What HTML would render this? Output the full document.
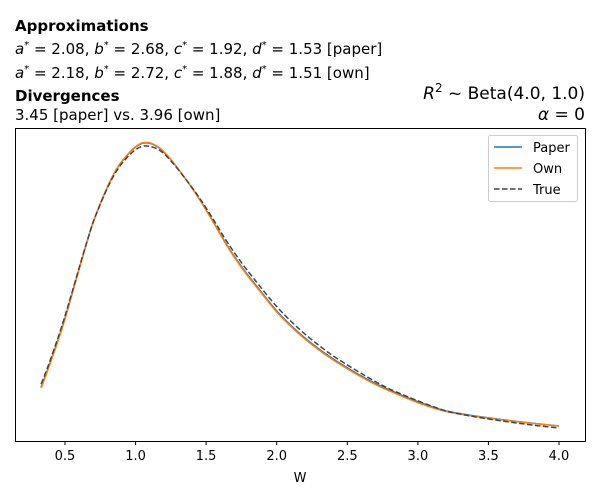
<!DOCTYPE html>
<html><head><meta charset="utf-8"><style>
body{margin:0;background:#fff;width:600px;height:500px;overflow:hidden;font-family:"DejaVu Sans","Liberation Sans",sans-serif;}
</style></head><body>
<svg width="600" height="500" xmlns="http://www.w3.org/2000/svg" font-family="DejaVu Sans, Liberation Sans, sans-serif">
<text x="15" y="31" font-size="15" font-weight="bold">Approximations</text>
<text x="15" y="54" font-size="15"><tspan font-style="italic">a</tspan><tspan dy="-6" font-size="10">*</tspan><tspan dy="6"> = 2.08, </tspan><tspan font-style="italic">b</tspan><tspan dy="-6" font-size="10">*</tspan><tspan dy="6"> = 2.68, </tspan><tspan font-style="italic">c</tspan><tspan dy="-6" font-size="10">*</tspan><tspan dy="6"> = 1.92, </tspan><tspan font-style="italic">d</tspan><tspan dy="-6" font-size="10">*</tspan><tspan dy="6"> = 1.53 [paper]</tspan></text>
<text x="15" y="78" font-size="15"><tspan font-style="italic">a</tspan><tspan dy="-6" font-size="10">*</tspan><tspan dy="6"> = 2.18, </tspan><tspan font-style="italic">b</tspan><tspan dy="-6" font-size="10">*</tspan><tspan dy="6"> = 2.72, </tspan><tspan font-style="italic">c</tspan><tspan dy="-6" font-size="10">*</tspan><tspan dy="6"> = 1.88, </tspan><tspan font-style="italic">d</tspan><tspan dy="-6" font-size="10">*</tspan><tspan dy="6"> = 1.51 [own]</tspan></text>
<text x="15" y="101" font-size="15" font-weight="bold">Divergences</text>
<text x="15" y="120" font-size="15">3.45 [paper] vs. 3.96 [own]</text>
<text x="585" y="99" font-size="17" text-anchor="end"><tspan font-style="italic">R</tspan><tspan dy="-7" font-size="12">2</tspan><tspan dy="7"> ~  Beta(4.0, 1.0)</tspan></text>
<text x="585" y="120" font-size="17" text-anchor="end"><tspan font-style="italic">α</tspan> = 0</text>
<rect x="15.5" y="128.5" width="570" height="313" fill="none" stroke="#000" stroke-width="1"/>
<g stroke="#000">
<line x1="65" y1="441" x2="65" y2="445"/><line x1="135.6" y1="441" x2="135.6" y2="445"/><line x1="206.1" y1="441" x2="206.1" y2="445"/><line x1="276.7" y1="441" x2="276.7" y2="445"/><line x1="347.3" y1="441" x2="347.3" y2="445"/><line x1="417.9" y1="441" x2="417.9" y2="445"/><line x1="488.4" y1="441" x2="488.4" y2="445"/><line x1="559" y1="441" x2="559" y2="445"/>
</g>
<g font-size="13" text-anchor="middle">
<text x="65" y="460">0.5</text><text x="135.6" y="460">1.0</text><text x="206.1" y="460">1.5</text><text x="276.7" y="460">2.0</text><text x="347.3" y="460">2.5</text><text x="417.9" y="460">3.0</text><text x="488.4" y="460">3.5</text><text x="559" y="460">4.0</text>
<text x="300" y="482">W</text>
</g>
<path fill="none" stroke="#1f77b4" stroke-width="1.5" d="M41,387 C45,378 60,335 65,318 C72,295 86,243 93.2,222 C100,204 112,173 121.5,162 C128,154 136,144 144,143 C150,142 158,146 163.8,152 C172,160 185,178 192,188 C200,199 214,223 220.3,234 C230,251 240,265 248.5,276 C260,290 268,301 276.7,311 C295,331 315,347 333.2,359 C355,373 375,384 389.6,390 C405,397 430,407 446.1,411 C470,416 520,422 559,426"/>
<path fill="none" stroke="#ff7f0e" stroke-width="1.5" d="M41,388 C45,379 60,336 65,319 C72,295 86,243 93.2,222 C100,204 112,173 121.5,162 C128,154 136,143.5 144,142.5 C150,141.5 158,145.5 163.8,151.5 C172,160 185,178 192,188 C200,199.5 214,223.5 220.3,234.5 C230,252 240,266 248.5,277 C260,291 268,302 276.7,312 C295,332 315,348 333.2,360 C355,374 375,385 389.6,391 C405,398 430,408 446.1,411.5 C470,416.5 520,422.5 559,426"/>
<path fill="none" stroke="#444" stroke-width="1.5" stroke-dasharray="5.5,2.5" d="M41,384 C45,376 60,333 65,316 C72,293 86,243 93.2,222 C100,204 112,175 121.5,164 C128,156 136,147 144,146 C150,145.5 158,148 163.8,153.5 C172,161 185,178 192,187.5 C200,198 214,220 220.3,231 C230,247 240,261 248.5,272 C260,286 268,297 276.7,306.5 C295,327 315,343 333.2,356 C355,370 375,382 389.6,389 C405,396 430,406 446.1,411 C470,417 520,424 559,428"/>
<rect x="488.5" y="135.5" width="89" height="66" fill="#fff" stroke="#ccc" rx="2"/>
<line x1="494" y1="147" x2="522" y2="147" stroke="#1f77b4" stroke-width="1.5"/>
<line x1="494" y1="168" x2="522" y2="168" stroke="#ff7f0e" stroke-width="1.5"/>
<line x1="494" y1="189" x2="522" y2="189" stroke="#444" stroke-width="1.5" stroke-dasharray="5.5,2.5"/>
<g font-size="13"><text x="533" y="152">Paper</text><text x="533" y="173">Own</text><text x="533" y="194">True</text></g>
</svg>
</body></html>
